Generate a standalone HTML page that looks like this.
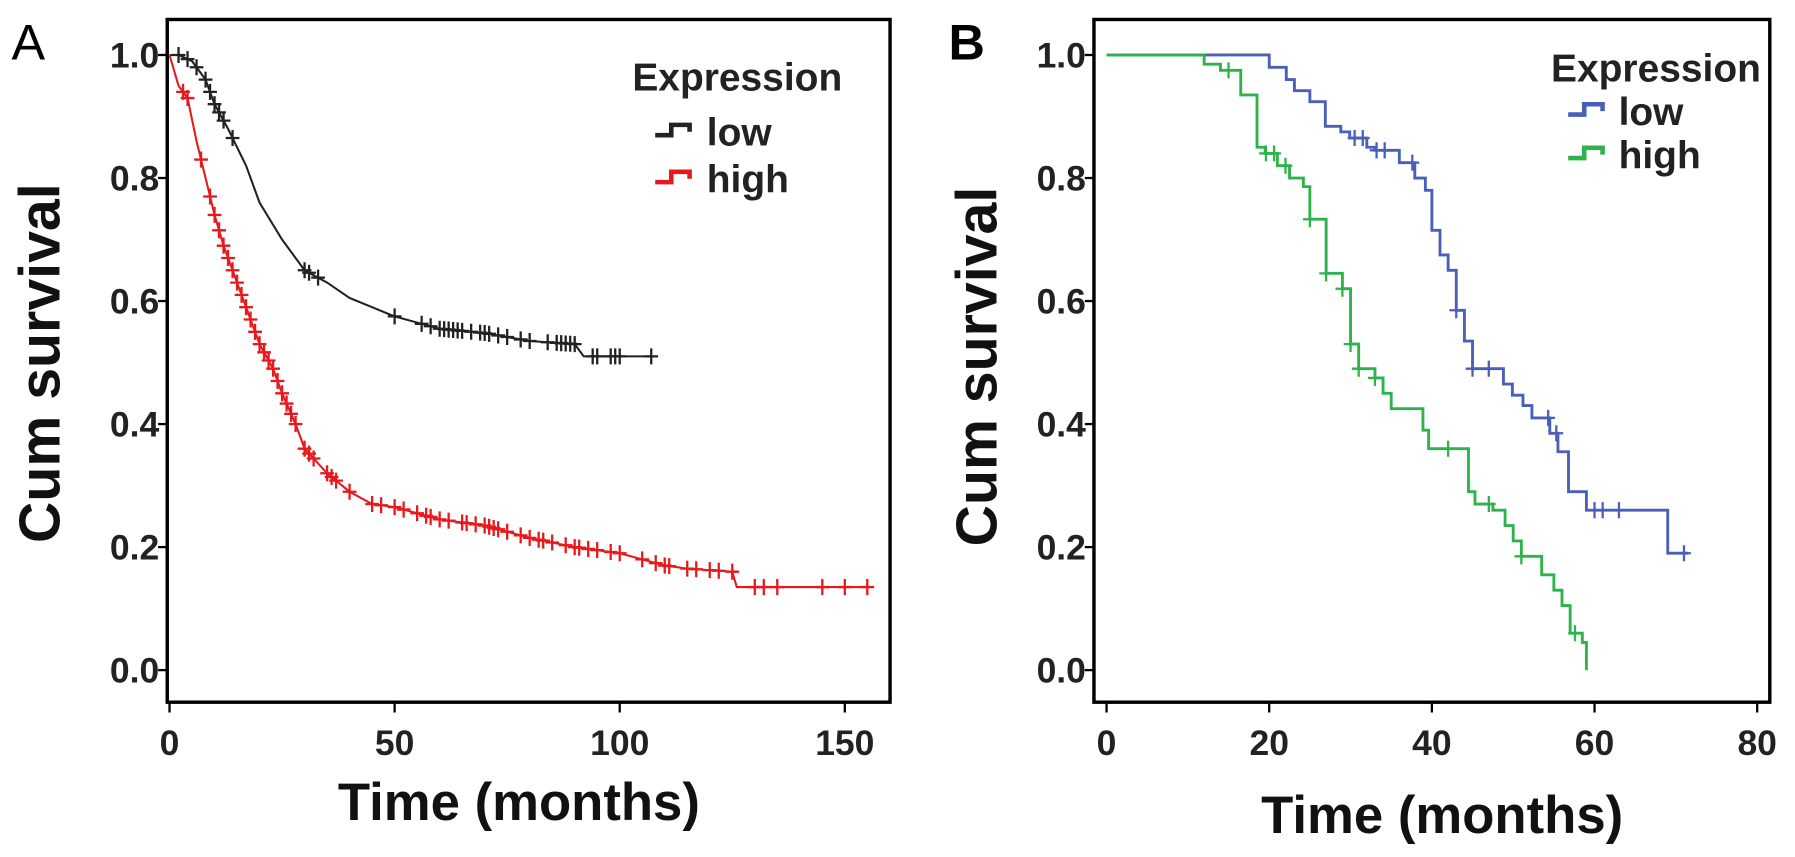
<!DOCTYPE html>
<html><head><meta charset="utf-8"><style>
body{margin:0;background:#fff;}
svg{display:block;font-family:"Liberation Sans",Arial,sans-serif;font-weight:bold;}
</style></head><body>
<svg id="chart" width="1795" height="857" viewBox="0 0 1795 857">
<g transform="scale(1.1455)">
<text x="10" y="52" font-size="44" font-weight="normal">A</text>
<text x="828" y="52" font-size="44">B</text>
<g id="pa"></g>
<g id="pb"></g>
</g>
</svg>
<script>
// Panel A data
const aLowT=[0,2,5,8,10,13,17,20,25,30,35,40,45,50,55,60,70,80,90,92,107];
const aLowS=[1,1,0.99,0.96,0.92,0.88,0.82,0.76,0.70,0.65,0.63,0.605,0.59,0.575,0.565,0.555,0.548,0.535,0.53,0.51,0.51];
const aLowCens=[2,4,6,8,9,10,11,12,14,30,31,33,50,56,58,60,61,62,63,64,65,67,69,70,71,73,75,78,80,84,86,87,88,89,90,94,95,98,99,100,107];
const aHighT=[0,2,4,6,8,10,12,15,18,20,23,25,28,30,35,40,45,50,60,70,80,90,100,110,115,125,126,155];
const aHighS=[1,0.95,0.93,0.86,0.80,0.74,0.69,0.63,0.57,0.53,0.49,0.45,0.40,0.36,0.32,0.29,0.27,0.265,0.245,0.235,0.215,0.20,0.19,0.17,0.165,0.16,0.135,0.135];
const aHighCens=[3,4,7,9,10,11,12,13,14,15,16,17,18,19,20,21,22,23,24,25,26,27,28,30,31,32,35,36,37,40,45,47,50,52,55,57,58,60,62,65,66,68,70,71,72,73,75,78,80,82,83,85,88,90,91,93,95,98,100,105,108,110,111,115,117,120,122,125,130,132,135,145,150,155];
// Panel B data
const bLowT=[0,20,22.1,23.1,25,26.9,28.8,29.9,32,33,36,37.9,39.2,40,41,42,43,44,45,48.8,49.9,51.2,52.3,54.5,55.5,56.8,59,69,71.5];
const bLowS=[1,0.98,0.96,0.942,0.924,0.884,0.875,0.865,0.85,0.845,0.825,0.80,0.78,0.715,0.675,0.65,0.585,0.535,0.49,0.465,0.447,0.43,0.41,0.385,0.355,0.29,0.26,0.19,0.19];
const bLowCens=[30.5,31.5,33.2,34.2,37.6,43,45,47,54.3,55.3,60,61,63,71];
const bHighT=[0,12,14,16.5,18.5,19.5,21,22.5,24.2,25,27,29,30,31,33,34,35,38.9,39.6,44.5,45.3,47.5,49,50,51,53.5,55,56,57,58.5,59];
const bHighS=[1,0.985,0.975,0.935,0.85,0.84,0.82,0.80,0.786,0.733,0.645,0.62,0.53,0.49,0.475,0.45,0.425,0.39,0.36,0.29,0.27,0.26,0.235,0.21,0.185,0.155,0.13,0.105,0.06,0.045,0];
const bHighCens=[15,19.6,20.6,22,25,27,29,30,31,33,42,47,51,57.6];
const yTicks=[0,0.2,0.4,0.6,0.8,1.0];
const aXTicks=[0,50,100,150];
const bXTicks=[0,20,40,60,80];

const NS="http://www.w3.org/2000/svg";
function mk(p,tag,at){const e=document.createElementNS(NS,tag);for(const k in at)e.setAttribute(k,at[k]);p.appendChild(e);return e;}
function stepAt(T,S,t){let v=S[0];for(let i=0;i<T.length;i++){if(T[i]<=t)v=S[i];}return v;}
function panel(g,cfg){
  const sx=t=>cfg.x0+(t-cfg.t0)*cfg.kx, sy=v=>cfg.y0-v*cfg.ky;
  const box=mk(g,'rect',{x:cfg.bx,y:17,width:cfg.bw,height:596,fill:'none',stroke:'#000','stroke-width':3});
  
  
  yTicks.forEach(v=>{
    const l=mk(g,'line',{x1:cfg.bx-8,x2:cfg.bx,y1:sy(v),y2:sy(v),stroke:'#000','stroke-width':2});
    
    
    const t=mk(g,'text',{x:cfg.bx-7,y:sy(v)+11,'font-size':31,'text-anchor':'end',fill:'#222'});t.textContent=v.toFixed(1);
    
    
  });
  cfg.xt.forEach(v=>{
    const l=mk(g,'line',{x1:sx(v),x2:sx(v),y1:613,y2:622,stroke:'#000','stroke-width':2});
    
    
    const t=mk(g,'text',{x:sx(v),y:659,'font-size':31,'text-anchor':'middle',fill:'#222'});t.textContent=v;
    
    
  });
  const yt=mk(g,'text',{transform:`translate(${cfg.ytx},${cfg.yty}) rotate(-90)`,'font-size':50,'text-anchor':'middle',fill:'#111'});yt.textContent='Cum survival';
  
  
  const xt=mk(g,'text',{x:cfg.xtx,y:cfg.xty,'font-size':46,'text-anchor':'middle',fill:'#111'});xt.textContent='Time (months)';
  
  
  cfg.series.forEach(s=>{
    let d='';
    if(cfg.step){
      for(let i=0;i<s.T.length;i++){const x=sx(s.T[i]),y=sy(s.S[i]);d+=i===0?`M${x},${y}`:`H${x}V${y}`;}
    }else{
      for(let i=0;i<s.T.length;i++){d+=(i?'L':'M')+sx(s.T[i])+','+sy(s.S[i]);}
    }
    const p=mk(g,'path',{d,fill:'none',stroke:s.c,'stroke-width':cfg.sw});
    
    
    s.C.forEach(t=>{
      let v;
      if(cfg.step)v=stepAt(s.T,s.S,t);
      else{let i=0;while(i<s.T.length-1&&s.T[i+1]<t)i++;const t0=s.T[i],t1=s.T[Math.min(i+1,s.T.length-1)];v=t1===t0?s.S[i]:s.S[i]+(s.S[i+1]-s.S[i])*(t-t0)/(t1-t0);}
      const m=mk(g,'path',{d:`M${sx(t)-6},${sy(v)}h12M${sx(t)},${sy(v)-7}v14`,stroke:s.c,'stroke-width':2});
      
      
    });
  });
  const lg=mk(g,'g',{});
  
  
  const lt=mk(lg,'text',{x:cfg.lx,y:cfg.ly,'font-size':34,fill:'#222'});lt.textContent='Expression';
  
  
  cfg.series.forEach((s,i)=>{
    const y=cfg.lys[i], x=cfg.swx;
    const e=mk(lg,'path',{d:`M${x},${y-9}h14v-9h16v6`,fill:'none',stroke:s.c,'stroke-width':4});
    
    
    const t=mk(lg,'text',{x:cfg.ltx,y:y,'font-size':34,fill:'#222'});t.textContent=s.name;
    
    
  });
}
panel(document.getElementById('pa'),{bx:146,bw:631,x0:148,t0:0,kx:3.93,y0:585,ky:537,xt:aXTicks,ytx:52,yty:317,xtx:453,xty:716,step:false,sw:1.8,
  lx:552,ly:79,swx:572,ltx:617,lys:[127,168],
  series:[{name:'low',T:aLowT,S:aLowS,C:aLowCens,c:'#222'},{name:'high',T:aHighT,S:aHighS,C:aHighCens,c:'#e8191c'}]});
panel(document.getElementById('pb'),{bx:955,bw:590,x0:966,t0:0,kx:7.1,y0:585,ky:537,xt:bXTicks,ytx:870,yty:320,xtx:1259,xty:727,step:true,sw:2.5,
  lx:1354,ly:71,swx:1369,ltx:1413,lys:[109,147],
  series:[{name:'low',T:bLowT,S:bLowS,C:bLowCens,c:'#4a5fb8'},{name:'high',T:bHighT,S:bHighS,C:bHighCens,c:'#2db34a'}]});
</script>
</body></html>
